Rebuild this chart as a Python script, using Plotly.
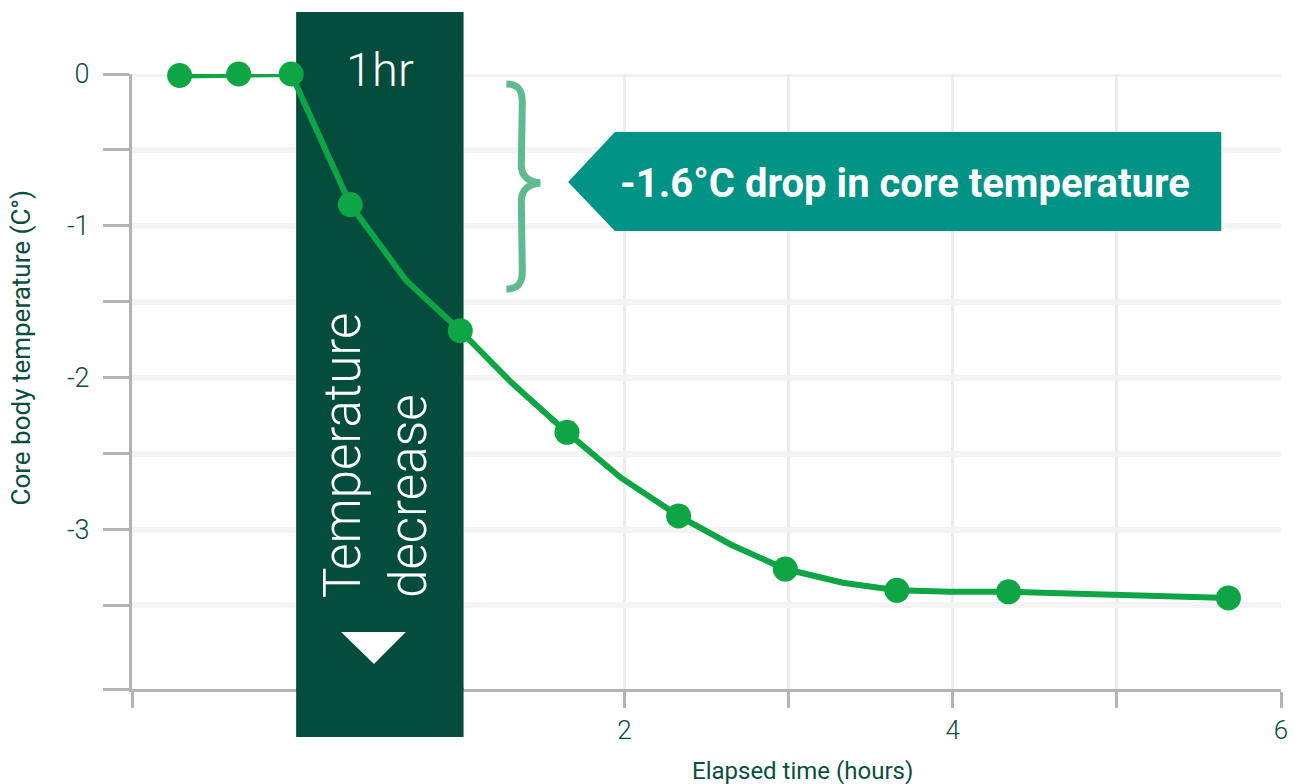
import plotly.graph_objects as go

# ---------------- data ----------------
time_h = [-0.71, -0.35, -0.03, 0.33, 0.67, 1.0, 1.31, 1.65, 1.98, 2.33, 2.65, 2.98, 3.33, 3.66, 3.99, 4.34, 5.0, 5.68]
temp_c = [-0.01, 0.0, 0.0, -0.86, -1.36, -1.69, -2.03, -2.36, -2.66, -2.91, -3.10, -3.26, -3.35, -3.40, -3.41, -3.41, -3.43, -3.45]
measured = [1, 1, 1, 1, 0, 1, 0, 1, 0, 1, 0, 1, 0, 1, 0, 1, 0, 1]

x_tick_vals = [-1, 2, 3, 4, 5, 6]
x_tick_text = ["", "2", "", "4", "", "6"]
y_tick_vals = [0, -0.5, -1, -1.5, -2, -2.5, -3, -3.5, -4.05]
y_tick_text = ["0", "", "-1", "", "-2", "", "-3", "", ""]

band_start, band_end = 0.0, 1.02
band_label = "1hr"
band_text = "Temperature<br>decrease"
callout_text = "-1.6°C drop in core temperature"
x_title = "Elapsed time (hours)"
y_title = "Core body temperature (C°)"

# ---------------- styling ----------------
DARK = "#0b4e3f"
GREEN = "#0ea544"
BAND = "#044d3d"
TEAL = "#019386"
BRACE = "#5dbb8f"
AXIS = "#b3b3b3"

W, H = 1300, 784
PL, PR, PT, PB = 132, 1286, 74, 689


def pxx(x):
    return (x - PL) / (PR - PL)


def pxy(y):
    return (PB - y) / (PB - PT)


def path_px(cmds):
    out = []
    for c in cmds:
        if isinstance(c, str):
            out.append(c)
        else:
            out.append(f"{pxx(c[0]):.5f},{pxy(c[1]):.5f}")
    return " ".join(out)


x_min, x_max = -1, 6
y_min, y_max = -4.05, 0


def dx_to_paper(v):
    return (v - x_min) / (x_max - x_min)


mx = [t for t, m in zip(time_h, measured) if m]
my = [v for v, m in zip(temp_c, measured) if m]

fig = go.Figure()
fig.add_trace(go.Scatter(x=time_h, y=temp_c, mode="lines",
                         line=dict(color=GREEN, width=6),
                         cliponaxis=False, hoverinfo="skip", showlegend=False))
fig.add_trace(go.Scatter(x=mx, y=my, mode="markers",
                         marker=dict(color=GREEN, size=25),
                         cliponaxis=False, showlegend=False))

shapes = [
    # top gridline (half visible at the plot edge)
    dict(type="line", xref="x", yref="y", x0=x_min, x1=x_max, y0=y_max, y1=y_max,
         line=dict(color="#f1f1f1", width=6), layer="below"),
    # band inside plot area (between gridlines and traces)
    dict(type="rect", xref="x", yref="y", x0=band_start, x1=band_end,
         y0=y_min, y1=y_max, fillcolor=BAND, line=dict(width=0), layer="between"),
    # band extension above plot area
    dict(type="rect", xref="paper", yref="paper", x0=dx_to_paper(band_start), x1=dx_to_paper(band_end),
         y0=1, y1=pxy(12), fillcolor=BAND, line=dict(width=0), layer="below"),
    # band extension below plot area (covers axis line)
    dict(type="rect", xref="paper", yref="paper", x0=dx_to_paper(band_start), x1=dx_to_paper(band_end),
         y0=0.002, y1=pxy(737), fillcolor=BAND, line=dict(width=0), layer="above"),
    # triangle
    dict(type="path", xref="paper", yref="paper",
         path=path_px(["M", (342, 632), "L", (407, 632), "L", (375, 664), "Z"]),
         fillcolor="white", line=dict(width=0), layer="above"),
    # callout
    dict(type="path", xref="paper", yref="paper",
         path=path_px(["M", (570, 182), "L", (617, 132), "L", (1226, 132), "L", (1226, 231),
                       "L", (617, 231), "Z"]),
         fillcolor=TEAL, line=dict(width=0), layer="above"),
    # brace
    dict(type="path", xref="paper", yref="paper",
         path=path_px(["M", (508, 84), "C", (520, 84), (524, 90), (524, 102), "L", (523, 165),
                       "C", (523, 176), (530, 182), (542, 183), "C", (530, 184), (523, 190), (523, 201),
                       "L", (524, 271), "C", (524, 283), (520, 289), (508, 289)]),
         line=dict(color=BRACE, width=7), fillcolor="rgba(0,0,0,0)", layer="above"),
]

C = dict(xanchor="center", yanchor="middle", showarrow=False)
annotations = [
    dict(text=band_label, xref="x", yref="paper", x=(band_start + band_end) / 2, y=pxy(70),
         font=dict(family="Roboto", size=47, color="white", weight=300), **C),
    dict(text=band_text, xref="x", yref="paper", x=(band_start + band_end) / 2 - 0.03, y=pxy(455),
         textangle=-90, align="left",
         font=dict(family="Roboto", size=51, color="white", weight=300), **C),
    dict(text=callout_text, xref="paper", yref="paper", x=pxx(908), y=pxy(183),
         font=dict(family="Roboto", size=40, color="white", weight=700), **C),
    dict(text=x_title, xref="paper", yref="paper", x=pxx(805), y=pxy(771),
         font=dict(family="Roboto", size=24, color=DARK), **C),
    dict(text=y_title, xref="paper", yref="paper", x=pxx(21), y=pxy(347),
         textangle=-90, font=dict(family="Roboto", size=26, color=DARK), **C),
]

fig.update_layout(
    width=W, height=H,
    margin=dict(l=PL, r=W - PR, t=PT, b=H - PB),
    paper_bgcolor="white", plot_bgcolor="white",
    shapes=shapes, annotations=annotations,
    showlegend=False,
    xaxis=dict(range=[x_min, x_max], tickvals=x_tick_vals, ticktext=x_tick_text,
               ticks="outside", ticklen=16, tickwidth=3, tickcolor=AXIS,
               showgrid=True, gridcolor="#ececec", gridwidth=3,
               showline=True, linecolor=AXIS, linewidth=3, zeroline=False,
               tickfont=dict(family="Roboto", size=26, color=DARK, weight=300)),
    yaxis=dict(range=[y_min, y_max], tickvals=y_tick_vals, ticktext=y_tick_text,
               ticks="outside", ticklen=26, tickwidth=3, tickcolor=AXIS,
               showgrid=True, gridcolor="#f4f4f4", gridwidth=6,
               showline=True, linecolor=AXIS, linewidth=3, zeroline=False,
               ticklabelstandoff=8,
               tickfont=dict(family="Roboto", size=27, color=DARK, weight=300)),
)

fig.write_html("out.html", config={"displayModeBar": False},
               post_script="document.body.style.margin='0px';")
